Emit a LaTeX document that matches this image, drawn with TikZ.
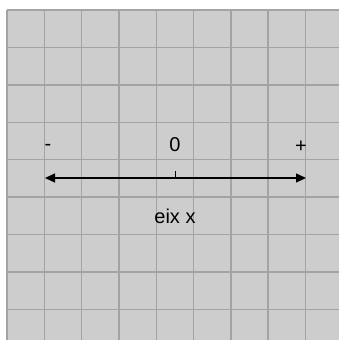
\documentclass[tikz,border=0pt]{standalone}
\usepackage{fontspec}
\setmainfont{Liberation Sans}
\usetikzlibrary{arrows.meta}
\begin{document}
\begin{tikzpicture}[x=1pt,y=-1pt,
  gridline/.style={draw=gridgray,line width=1.4pt},
  lbl/.style={font=\fontsize{20}{24}\selectfont,inner sep=0pt,anchor=base},
  axis/.style={line width=1.3pt,{Triangle[length=10pt,width=9pt]}-{Triangle[length=10pt,width=9pt]}}]
\definecolor{gridgray}{HTML}{A3A3A3}
\definecolor{bggray}{HTML}{CDCDCD}
\useasboundingbox (0,0) rectangle (339,340);
\fill[white] (0,0) rectangle (339,340);
\fill[bggray] (7,10) rectangle (339,340);
\foreach \i in {0,...,8} {
  \draw[gridline] ({7+37.3*\i},10) -- ({7+37.3*\i},340);
  \draw[gridline] (7,{10+37.4*\i}) -- (339,{10+37.4*\i});
}
\coordinate (L) at (45,178);
\coordinate (R) at (306,178);
\coordinate (T0) at (175,178);
\coordinate (T1) at (175,171);
\draw[axis] (L) -- (R);
\draw[line width=1pt] (T0) -- (T1);
\node[lbl] (minus) at (48,150) {-};
\node[lbl] (zero) at (175,151) {0};
\node[lbl] (plus) at (301,152) {+};
\node[lbl] (eix) at (175,223) {eix x};
\end{tikzpicture}
\end{document}
